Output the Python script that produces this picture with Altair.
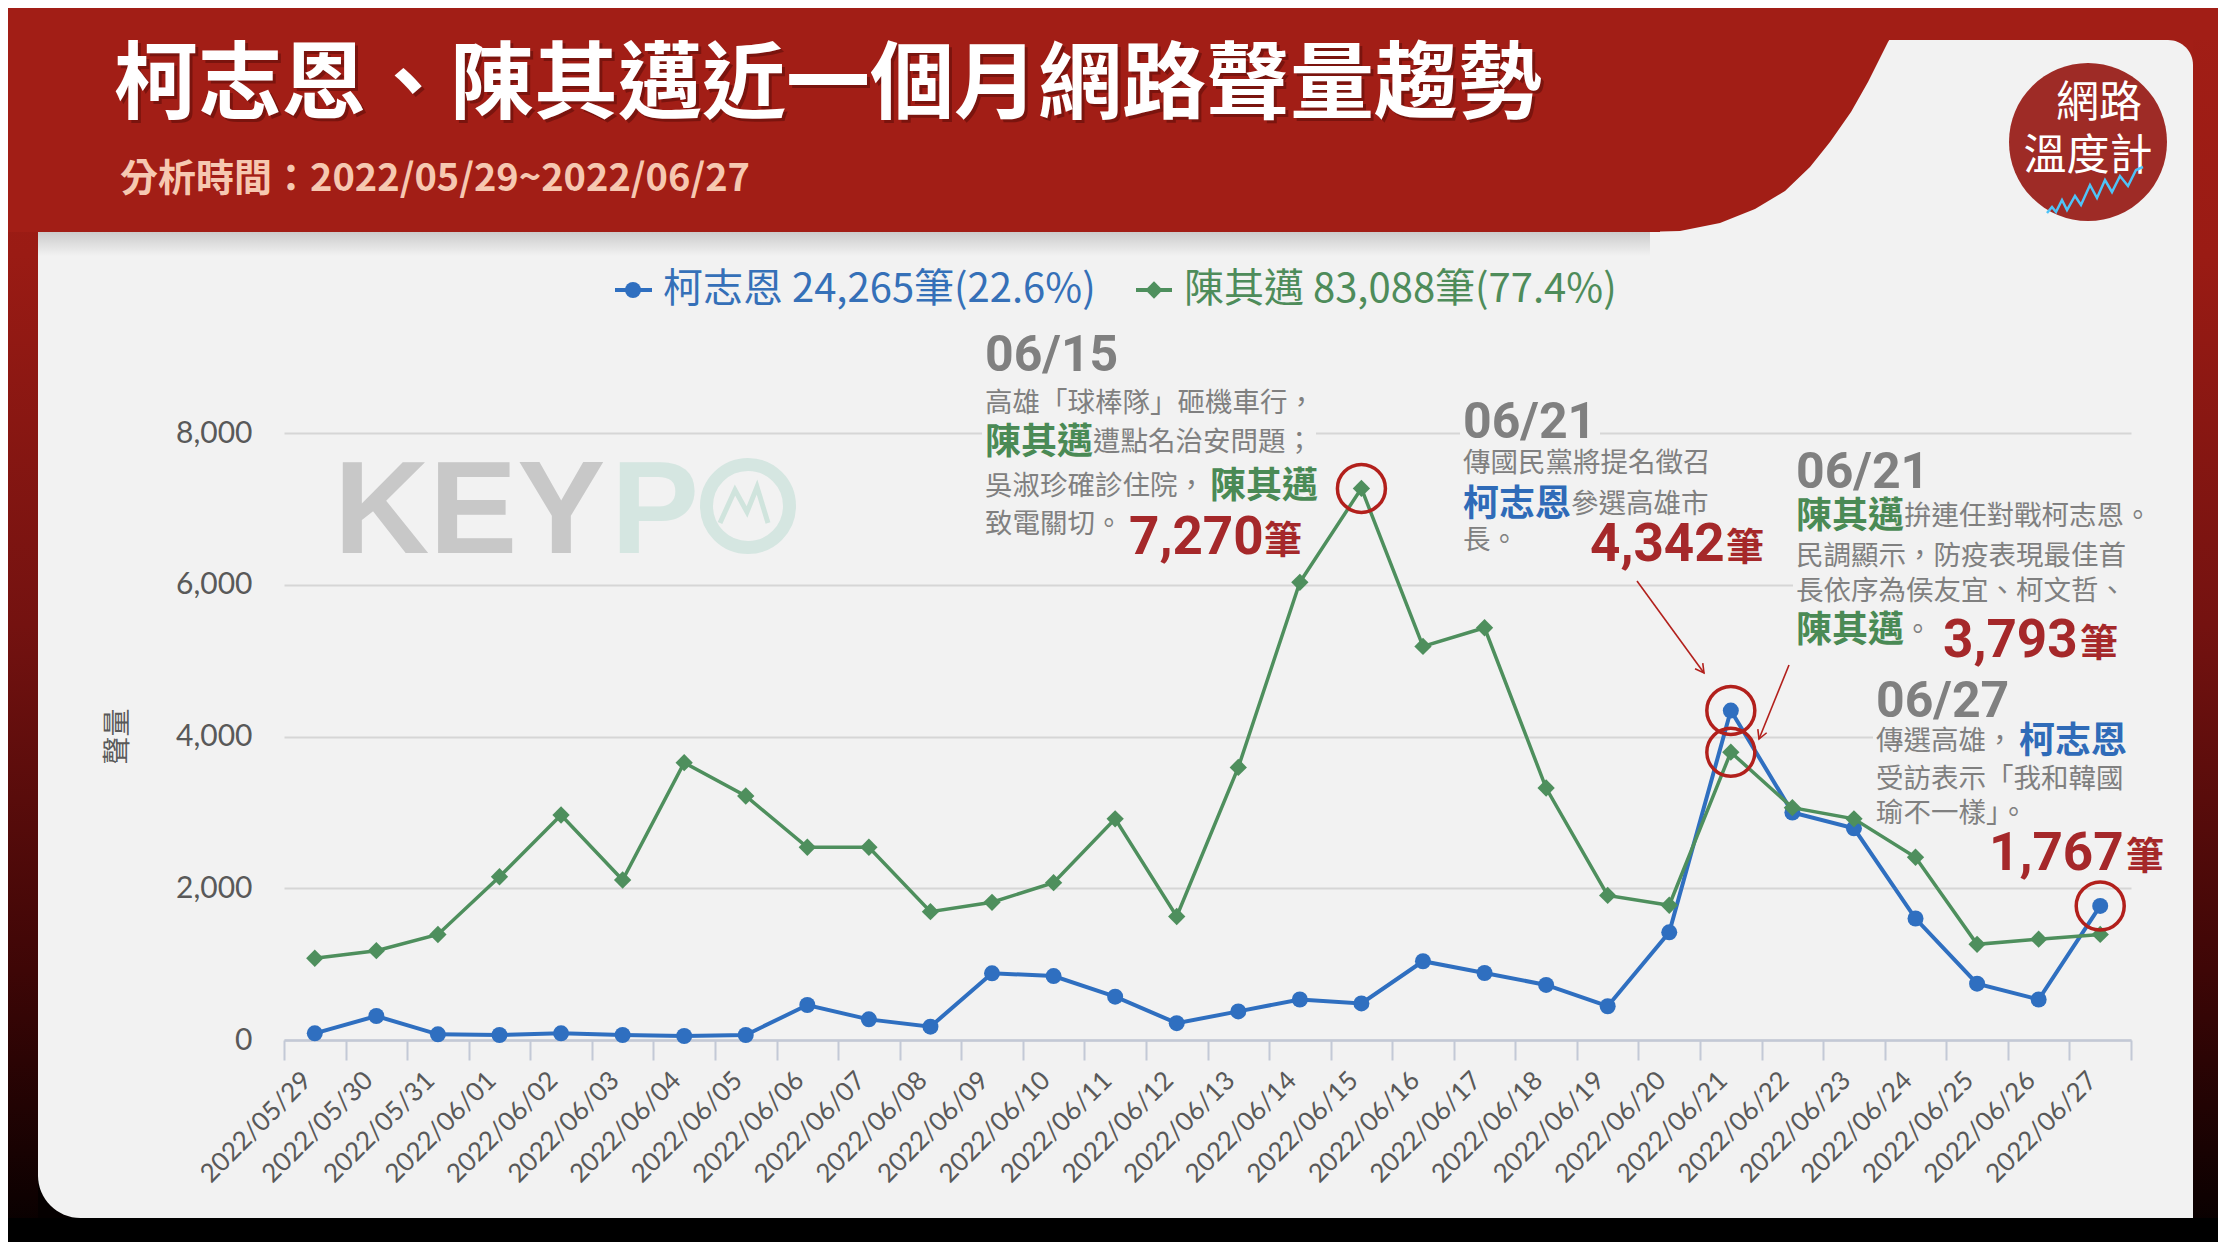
import altair as alt
import pandas as pd

# ---------------- data ----------------
DATES = ["2022/05/29", "2022/05/30", "2022/05/31", "2022/06/01", "2022/06/02",
         "2022/06/03", "2022/06/04", "2022/06/05", "2022/06/06", "2022/06/07",
         "2022/06/08", "2022/06/09", "2022/06/10", "2022/06/11", "2022/06/12",
         "2022/06/13", "2022/06/14", "2022/06/15", "2022/06/16", "2022/06/17",
         "2022/06/18", "2022/06/19", "2022/06/20", "2022/06/21", "2022/06/22",
         "2022/06/23", "2022/06/24", "2022/06/25", "2022/06/26", "2022/06/27"]
SERIES = ["柯志恩", "陳其邁"]
KO = [88, 316, 75, 66, 88, 66, 53, 66, 461, 272, 176, 879, 843, 571, 222,
      377, 534, 482, 1038, 883, 726, 445, 1419, 4342, 2998, 2790, 1601, 742, 534, 1767]
CHEN = [1077, 1177, 1390, 2152, 2965, 2109, 3655, 3216, 2540, 2540, 1691, 1815, 2073, 2915, 1628,
        3593, 6032, 7270, 5187, 5433, 3321, 1905, 1776, 3793, 3062, 2915, 2409, 1261, 1329, 1391]
HIGHLIGHTS = [("陳其邁", "2022/06/15"), ("柯志恩", "2022/06/21"),
              ("陳其邁", "2022/06/21"), ("柯志恩", "2022/06/27")]
Y_TICKS = [0, 2000, 4000, 6000, 8000]
LEGEND_LABELS = ["柯志恩 24,265筆(22.6%)", "陳其邁 83,088筆(77.4%)"]

TITLE = "柯志恩、陳其邁近一個月網路聲量趨勢"
SUBTITLE = "分析時間：2022/05/29~2022/06/27"

# ---------------- layout / style ----------------
CJK = "Noto Sans CJK TC"
NUMF = "Roboto"
AXF = "Lato"
BG = "#f2f2f2"
RED = "#a21e16"
BLUE = "#2f6fc0"
GREEN = "#4e8f5d"
NUM_RED = "#a5282a"
RING_RED = "#b2201c"
GRAY = "#808080"
TXT_BLUE = "#2f6bb8"
TXT_GREEN = "#4a8a55"

PLOT_LEFT, PLOT_TOP, PLOT_W, PLOT_H = 284, 433, 1847, 607
TOTAL_W, TOTAL_H = 2210, 1234


def X(p):
    return p - PLOT_LEFT


def Y(p):
    return p - PLOT_TOP


dummy = pd.DataFrame({"k": [0]})


def rect(x1, y1, x2, y2, fill, **kw):
    return alt.Chart(dummy).mark_rect(fill=fill, strokeWidth=0, **kw).encode(
        x=alt.value(X(x1)), x2=alt.value(X(x2)), y=alt.value(Y(y1)), y2=alt.value(Y(y2)))


def txt(s, px, py, size, color, weight="normal", font=CJK, align="left", baseline="middle", **kw):
    return alt.Chart(dummy).mark_text(
        text=s, align=align, baseline=baseline, fontSize=size, color=color,
        fontWeight=weight, font=font, **kw).encode(x=alt.value(X(px)), y=alt.value(Y(py)))


def vgrad(stops):
    return alt.LinearGradient(
        gradient="linear", x1=0, x2=0, y1=0, y2=1,
        stops=[alt.GradientStop(offset=o, color=c) for o, c in stops])


def pixline(xs, ys, color, width):
    d = pd.DataFrame({"px": [X(v) for v in xs], "py": [Y(v) for v in ys], "o": list(range(len(xs)))})
    return alt.Chart(d).mark_line(color=color, strokeWidth=width).encode(
        x=alt.X("px:Q", scale=None, axis=None),
        y=alt.Y("py:Q", scale=None, axis=None),
        order="o:Q")


layers = []

# frame
frame_grad = vgrad([(0, "#a21e16"), (0.2, "#9a1b14"), (0.5, "#741210"), (0.78, "#3e0606"), (1, "#050000")])
layers.append(rect(8, 8, 38, 1242, frame_grad))
layers.append(rect(2193, 8, 2218, 1242, frame_grad))
layers.append(rect(8, 1218, 2218, 1242, "#000000"))
layers.append(rect(38, 1133, 123, 1218, "#050000"))
layers.append(rect(38, 1133, 123, 1218, BG, cornerRadiusBottomLeft=85))
layers.append(rect(2143, 40, 2193, 90, RED))
layers.append(rect(2143, 40, 2193, 90, BG, cornerRadiusTopRight=50))

# banner
layers.append(rect(38, 232, 1650, 256, vgrad([(0, "#cbcbcb"), (1, BG)])))
layers.append(rect(8, 8, 1660, 232, RED))
CURVE_X = [1640, 1680, 1720, 1755, 1785, 1810, 1830, 1851, 1868, 1880, 1888, 1893]
CURVE_Y = [232, 231, 223, 209, 191, 167, 142, 112, 82, 58, 42, 34]
curve_df = pd.DataFrame({"px": [X(v) for v in CURVE_X], "py": [Y(v) for v in CURVE_Y]})
layers.append(alt.Chart(curve_df).mark_area(color=RED, opacity=1, orient="vertical").encode(
    x=alt.X("px:Q", scale=None, axis=None),
    y=alt.Y("py:Q", scale=None, axis=None, stack=None),
    y2=alt.value(Y(8))))
layers.append(rect(8, 8, 2218, 40, RED))

# title
layers.append(txt(TITLE, 117, 90, 84, "#5a0c08", weight="bold", opacity=0.55))
layers.append(txt(TITLE, 114, 87, 84, "#ffffff", weight="bold"))
layers.append(txt(SUBTITLE, 120, 180, 38, "#f6c8b1", weight="bold"))

# logo
layers.append(alt.Chart(dummy).mark_point(shape="circle", filled=True, size=158 ** 2, color="#9e2b26",
                                          opacity=1).encode(x=alt.value(X(2088)), y=alt.value(Y(142))))
layers.append(txt("網路", 2099, 104, 43, "#ffffff", align="center"))
layers.append(txt("溫度計", 2088, 157, 43, "#ffffff", align="center"))
layers.append(pixline([2047, 2052, 2056, 2062, 2067, 2075, 2081, 2090, 2097, 2105, 2112, 2120, 2128, 2136, 2143],
                      [213, 207, 212, 200, 210, 196, 205, 185, 198, 180, 192, 176, 186, 170, 167],
                      "#4fc3f7", 2.5))

# watermark
layers.append(txt("KEY", 334, 553, 132, "#c8c8c8", weight="bold", font="Liberation Sans", baseline="alphabetic"))
layers.append(txt("P", 611, 553, 132, "#d5e6e1", weight="bold", font="Liberation Sans", baseline="alphabetic"))
layers.append(alt.Chart(dummy).mark_point(shape="circle", filled=False, size=83 ** 2, color="#d5e6e1",
                                          strokeWidth=13, opacity=1).encode(
    x=alt.value(X(748)), y=alt.value(Y(506))))
layers.append(pixline([720, 735, 747, 757, 768], [523, 490, 512, 487, 523], "#d0e4dd", 5))

# legend (custom)
layers.append(alt.Chart(dummy).mark_rule(color=BLUE, strokeWidth=4).encode(
    x=alt.value(X(615)), x2=alt.value(X(652)), y=alt.value(Y(290))))
layers.append(alt.Chart(dummy).mark_point(shape="circle", filled=True, size=256, color=BLUE, opacity=1).encode(
    x=alt.value(X(633)), y=alt.value(Y(290))))
layers.append(txt(LEGEND_LABELS[0], 663, 290, 40, "#3570b8"))
layers.append(alt.Chart(dummy).mark_rule(color=GREEN, strokeWidth=4).encode(
    x=alt.value(X(1136)), x2=alt.value(X(1172)), y=alt.value(Y(290))))
layers.append(alt.Chart(dummy).mark_point(shape="diamond", filled=True, size=300, color=GREEN, opacity=1).encode(
    x=alt.value(X(1154)), y=alt.value(Y(290))))
layers.append(txt(LEGEND_LABELS[1], 1184, 290, 40, "#4e8c5a"))

# masks behind annotation rows (hide gridlines)
layers.append(rect(982, 425, 1316, 461, BG))
layers.append(rect(1460, 405, 1600, 441, BG))
layers.append(rect(1793, 578, 2132, 606, BG))
layers.append(rect(1873, 725, 2132, 760, BG))

# ---------------- data layers ----------------
df = pd.DataFrame({
    "date": DATES * 2,
    "series": [SERIES[0]] * len(DATES) + [SERIES[1]] * len(DATES),
    "value": KO + CHEN,
})
hl_keys = set(HIGHLIGHTS)
df_hl = df[[(s, d) in hl_keys for s, d in zip(df["series"], df["date"])]].reset_index(drop=True)

x_axis = alt.Axis(labelAngle=315, labelAlign="right", labelBaseline="middle", labelFont=AXF,
                  labelFontSize=26, labelColor="#595959", labelPadding=16, labelOffset=-8, tickSize=20,
                  tickColor="#c3c9d6", tickWidth=2, tickBand="extent", domainColor="#c3c9d6",
                  domainWidth=2.5, grid=False, labelOverlap=False, labelLimit=400)
y_axis = alt.Axis(values=Y_TICKS, format=",.0f", labelFont=AXF, labelFontSize=30, labelColor="#595959",
                  labelPadding=32, ticks=False, domain=False, grid=True, gridColor="#d6d6d6",
                  gridWidth=2, titleFont=CJK, titleFontSize=28, titleColor="#595959",
                  titleFontWeight="normal", titleAngle=270, titleX=-166, titleY=303,
                  titleAlign="center", titleBaseline="middle")
xenc = alt.X("date:N", sort=DATES, title=None, bandPosition=0.5,
             scale=alt.Scale(type="band", paddingInner=0, paddingOuter=0), axis=x_axis)
yenc = alt.Y("value:Q", title="聲量", scale=alt.Scale(domain=[0, 8000], nice=False, zero=True), axis=y_axis)

base = alt.Chart(df)
ko_f = alt.datum.series == SERIES[0]
ch_f = alt.datum.series == SERIES[1]
layers.append(base.transform_filter(ko_f).mark_line(color=BLUE, strokeWidth=4).encode(x=xenc, y=yenc))
layers.append(base.transform_filter(ko_f).mark_point(shape="circle", filled=True, size=256, color=BLUE,
                                                     opacity=1).encode(x=xenc, y=yenc))
layers.append(base.transform_filter(ch_f).mark_line(color=GREEN, strokeWidth=3.5).encode(x=xenc, y=yenc))
layers.append(base.transform_filter(ch_f).mark_point(shape="diamond", filled=True, size=300, color=GREEN,
                                                     opacity=1).encode(x=xenc, y=yenc))
layers.append(alt.Chart(df_hl).mark_point(shape="circle", filled=False, size=48 ** 2, color=RING_RED,
                                          strokeWidth=3.5, opacity=1).encode(x=xenc, y=yenc))

# ---------------- annotations ----------------
G = 27.5
BIG = 53
HEAD = 50
ann = [
    # 06/15
    ("06/15", 985, 356, HEAD, GRAY, "bold", NUMF),
    ("高雄「球棒隊」砸機車行，", 985, 404, G, GRAY, "normal", CJK),
    ("陳其邁", 985, 443, 36, TXT_GREEN, "bold", CJK),
    ("遭點名治安問題；", 1093, 443, G, GRAY, "normal", CJK),
    ("吳淑珍確診住院，", 985, 487, G, GRAY, "normal", CJK),
    ("陳其邁", 1210, 487, 36, TXT_GREEN, "bold", CJK),
    ("致電關切。", 985, 525, G, GRAY, "normal", CJK),
    ("7,270", 1129, 538, BIG, NUM_RED, "bold", NUMF),
    ("筆", 1264, 542, 38, NUM_RED, "bold", CJK),
    # 06/21 (柯志恩)
    ("06/21", 1463, 423, HEAD, GRAY, "bold", NUMF),
    ("傳國民黨將提名徵召", 1463, 464, G, GRAY, "normal", CJK),
    ("柯志恩", 1463, 505, 36, TXT_BLUE, "bold", CJK),
    ("參選高雄市", 1571, 505, G, GRAY, "normal", CJK),
    ("長。", 1463, 541, G, GRAY, "normal", CJK),
    ("4,342", 1590, 545, BIG, NUM_RED, "bold", NUMF),
    ("筆", 1726, 549, 38, NUM_RED, "bold", CJK),
    # 06/21 (陳其邁)
    ("06/21", 1796, 473, HEAD, GRAY, "bold", NUMF),
    ("陳其邁", 1796, 517, 36, TXT_GREEN, "bold", CJK),
    ("拚連任對戰柯志恩。", 1904, 517, G, GRAY, "normal", CJK),
    ("民調顯示，防疫表現最佳首", 1796, 557, G, GRAY, "normal", CJK),
    ("長依序為侯友宜、柯文哲、", 1796, 592, G, GRAY, "normal", CJK),
    ("陳其邁", 1796, 631, 36, TXT_GREEN, "bold", CJK),
    ("。", 1904, 631, G, GRAY, "normal", CJK),
    ("3,793", 1943, 641, BIG, NUM_RED, "bold", NUMF),
    ("筆", 2080, 645, 38, NUM_RED, "bold", CJK),
    # 06/27
    ("06/27", 1876, 702, HEAD, GRAY, "bold", NUMF),
    ("傳選高雄，", 1876, 742, G, GRAY, "normal", CJK),
    ("柯志恩", 2019, 742, 36, TXT_BLUE, "bold", CJK),
    ("受訪表示「我和韓國", 1876, 780, G, GRAY, "normal", CJK),
    ("瑜不一樣」。", 1876, 814, G, GRAY, "normal", CJK),
    ("1,767", 1989, 854, BIG, NUM_RED, "bold", NUMF),
    ("筆", 2126, 858, 38, NUM_RED, "bold", CJK),
]
for s, px, py, size, color, weight, font in ann:
    layers.append(txt(s, px, py, size, color, weight=weight, font=font))

# arrows
ARROWS = [((1637, 581), (1704, 673), 144), ((1789, 665), (1759, 739), 202)]
for (x1, y1), (x2, y2), ang in ARROWS:
    layers.append(alt.Chart(dummy).mark_rule(color=RING_RED, strokeWidth=1.6).encode(
        x=alt.value(X(x1)), y=alt.value(Y(y1)), x2=alt.value(X(x2)), y2=alt.value(Y(y2))))
    layers.append(alt.Chart(dummy).mark_point(shape="M-0.55,1L0,0L0.55,1", filled=False, size=300,
                                              color=RING_RED, strokeWidth=1.6, angle=ang, opacity=1).encode(
        x=alt.value(X(x2)), y=alt.value(Y(y2))))

chart = alt.layer(*layers).properties(
    width=PLOT_W, height=PLOT_H,
    padding={"left": PLOT_LEFT - 8, "top": PLOT_TOP - 8,
             "right": TOTAL_W - (PLOT_LEFT - 8) - PLOT_W,
             "bottom": TOTAL_H - (PLOT_TOP - 8) - PLOT_H},
    autosize=alt.AutoSizeParams(type="none"),
).configure(background=BG).configure_view(stroke=None)

chart.save("out.html", embed_options={"renderer": "svg", "actions": False})
